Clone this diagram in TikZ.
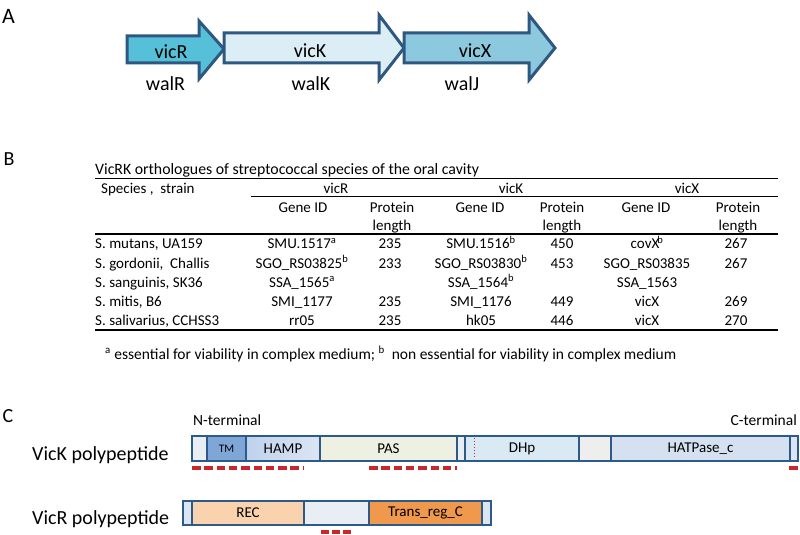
\documentclass[tikz,border=0pt]{standalone}
\usepackage{fontspec}
\setmainfont{Carlito}
\definecolor{arrowline}{HTML}{2E5880}
\definecolor{fR}{HTML}{55C0D8}
\definecolor{fK}{HTML}{DCEEF5}
\definecolor{fX}{HTML}{8CC8DE}
\definecolor{barline}{HTML}{2E5A8A}
\definecolor{redd}{HTML}{C8282C}
\definecolor{cWhite}{HTML}{E8EEF4}
\definecolor{cTM}{HTML}{7EA7D8}
\definecolor{cHAMPa}{HTML}{BFD2EC}
\definecolor{cHAMPb}{HTML}{DCE5F2}
\definecolor{cPAS}{HTML}{EEF0E2}
\definecolor{cDHp}{HTML}{D9EAF4}
\definecolor{cBlank}{HTML}{EEEEEE}
\definecolor{cHAT}{HTML}{D5E1F0}
\definecolor{cEnd}{HTML}{DCE6F2}
\definecolor{cREC}{HTML}{FAD2AE}
\definecolor{cTrans}{HTML}{F0984C}
\begin{document}
\begin{tikzpicture}[x=1pt,y=-1pt,
  panel/.style={font=\fontsize{20}{24}\selectfont, anchor=base, inner sep=0},
  glab/.style={font=\fontsize{20}{24}\selectfont, anchor=base, inner sep=0},
  cell/.style={font=\fontsize{15}{18}\selectfont, anchor=base, inner sep=0},
  cellL/.style={cell, anchor=base west},
  gene/.style={draw=arrowline, line width=3pt, line join=miter},
  seg/.style={draw=barline, line width=2.5pt},
  segtext/.style={font=\fontsize{15}{18}\selectfont, inner sep=0},
  poly/.style={font=\fontsize{20}{24}\selectfont, anchor=base west, inner sep=0},
  reddash/.style={draw=redd, line width=3.5pt, dash pattern=on 8.5pt off 3.8pt},
  rule/.style={line width=1.3pt},
]
\useasboundingbox (0,0) rectangle (800,535);

% ---------- A ----------
\node[panel, font=\fontsize{22}{26}\selectfont] (labA) at (8.5,24) {A};
\draw[gene, fill=fR] (127,36) -- (199,36) -- (199,21) -- (224,49) -- (199,79) -- (199,63) -- (127,63) -- cycle;
\draw[gene, fill=fK] (224,33) -- (379,33) -- (379,15) -- (404,48) -- (379,80) -- (379,63) -- (224,63) -- cycle;
\draw[gene, fill=fX] (404,33) -- (529,33) -- (529,15) -- (555,48) -- (529,80) -- (529,63) -- (404,63) -- cycle;
\node[glab] (vicR) at (171,59) {vicR};
\node[glab] (vicK) at (310,57) {vicK};
\node[glab] (vicX) at (475,57) {vicX};
\node[glab] (walR) at (165.5,90) {walR};
\node[glab] (walK) at (311,90) {walK};
\node[glab] (walJ) at (462,90) {walJ};

% ---------- B ----------
\node[panel] (labB) at (9,165) {B};
\node[cellL, font=\fontsize{15.8}{19}\selectfont] (title) at (95,174) {\underline{VicRK orthologues of streptococcal species of the oral cavity}};
\coordinate (r1a) at (95,178.5);  \coordinate (r1b) at (778,178.5);
\coordinate (r2a) at (251,196);   \coordinate (r2b) at (778,196);
\coordinate (r3a) at (95,234);    \coordinate (r3b) at (778,234);
\coordinate (r4a) at (95,330);    \coordinate (r4b) at (778,330);
\draw[rule] (r1a) -- (r1b);
\draw[line width=1pt] (r2a) -- (r2b);
\draw[rule] (r3a) -- (r3b);
\draw[rule] (r4a) -- (r4b);

\node[cellL] (hsp) at (101,193) {Species ,\ \ strain};
\node[cell] (hR) at (336,193) {vicR};
\node[cell] (hK) at (511,193) {vicK};
\node[cell] (hX) at (687,193) {vicX};
\node[cell] (hRg) at (303,212) {Gene ID};
\node[cell] (hRp) at (392,212) {Protein};
\node[cell] (hRl) at (392,230) {length};
\node[cell] (hKg) at (480,212) {Gene ID};
\node[cell] (hKp) at (562,212) {Protein};
\node[cell] (hKl) at (562,230) {length};
\node[cell] (hXg) at (646,212) {Gene ID};
\node[cell] (hXp) at (738,212) {Protein};
\node[cell] (hXl) at (738,230) {length};

% rows
\node[cellL] (s1) at (95,248.5) {S. mutans, UA159};
\node[cellL] (s2) at (95,268) {S. gordonii,\ \ Challis};
\node[cellL] (s3) at (95,287) {S. sanguinis, SK36};
\node[cellL] (s4) at (95,306) {S. mitis, B6};
\node[cellL] (s5) at (95,325) {S. salivarius, CCHSS3};

\node[cell] (g11) at (302,248.5) {SMU.1517\textsuperscript{a}};
\node[cell] (g21) at (302,268) {SGO\_RS03825\textsuperscript{b}};
\node[cell] (g31) at (302,287) {SSA\_1565\textsuperscript{a}};
\node[cell] (g41) at (302,306) {SMI\_1177};
\node[cell] (g51) at (302,325) {rr05};
\node[cell] (p11) at (390,248.5) {235};
\node[cell] (p21) at (390,268) {233};
\node[cell] (p41) at (390,306) {235};
\node[cell] (p51) at (390,325) {235};

\node[cell] (g12) at (481,248.5) {SMU.1516\textsuperscript{b}};
\node[cell] (g22) at (481,268) {SGO\_RS03830\textsuperscript{b}};
\node[cell] (g32) at (481,287) {SSA\_1564\textsuperscript{b}};
\node[cell] (g42) at (481,306) {SMI\_1176};
\node[cell] (g52) at (481,325) {hk05};
\node[cell] (p12) at (562,248.5) {450};
\node[cell] (p22) at (562,268) {453};
\node[cell] (p42) at (562,306) {449};
\node[cell] (p52) at (562,325) {446};

\node[cell] (g13) at (647,248.5) {covX\kern-2pt\textsuperscript{b}};
\node[cell] (g23) at (647,268) {SGO\_RS03835};
\node[cell] (g33) at (647,287) {SSA\_1563};
\node[cell] (g43) at (647,306) {vicX};
\node[cell] (g53) at (647,325) {vicX};
\node[cell] (p13) at (736,248.5) {267};
\node[cell] (p23) at (736,268) {267};
\node[cell] (p43) at (736,306) {269};
\node[cell] (p53) at (736,325) {270};

\node[font=\fontsize{15.5}{18}\selectfont, anchor=base west, inner sep=0] (foot) at (105,359)
  {\textsuperscript{a} essential for viability in complex medium;\ \textsuperscript{b}\ \ non essential for viability in complex medium};

% ---------- C ----------
\node[panel] (labC) at (8,422) {C};
\node[cell, anchor=base west, font=\fontsize{15.5}{18}\selectfont] (nterm) at (193,425) {N-terminal};
\node[cell, anchor=base east, font=\fontsize{15.5}{18}\selectfont] (cterm) at (797,425) {C-terminal};
\node[poly] (vickp) at (32,460) {VicK polypeptide};
\node[poly] (vicrp) at (32,524) {VicR polypeptide};

% VicK bar segments
\def\kt{436}\def\kb{461}
\draw[seg, fill=cWhite] (192,\kt) rectangle (207,\kb);
\draw[seg, fill=cTM] (207,\kt) rectangle (246,\kb);
\draw[seg, left color=cHAMPa, right color=cHAMPb] (246,\kt) rectangle (320,\kb);
\draw[seg, fill=cPAS] (320,\kt) rectangle (457,\kb);
\draw[seg, fill=cWhite] (457,\kt) rectangle (465,\kb);
\draw[seg, fill=cDHp] (465,\kt) rectangle (579,\kb);
\draw[seg, fill=cBlank] (579,\kt) rectangle (611,\kb);
\draw[seg, fill=cHAT] (611,\kt) rectangle (790,\kb);
\draw[seg, fill=cEnd] (790,\kt) rectangle (798,\kb);
\coordinate (dpa) at (474,438); \coordinate (dpb) at (474,459);
\draw[redd, line width=1pt, dotted] (dpa) -- (dpb);
\node[segtext, font=\fontsize{11.5}{13}\selectfont] (tm) at (226.5,449) {TM};
\node[segtext] (hamp) at (283,448.5) {HAMP};
\node[segtext] (pas) at (388.5,448.5) {PAS};
\node[segtext] (dhp) at (522,448.5) {DHp};
\node[segtext] (hat) at (700.5,448.5) {HATPase\_c};

% VicR bar segments
\def\rt{501}\def\rb{525}
\draw[seg, fill=cEnd] (183,\rt) rectangle (192,\rb);
\draw[seg, fill=cREC] (192,\rt) rectangle (304,\rb);
\draw[seg, fill=cWhite] (304,\rt) rectangle (369,\rb);
\draw[seg, fill=cTrans] (369,\rt) rectangle (482,\rb);
\draw[seg, fill=cEnd] (482,\rt) rectangle (491,\rb);
\node[segtext] (rec) at (248,513) {REC};
\node[segtext] (trans) at (425.5,513) {Trans\_reg\_C};

% red dashes
\coordinate (d1a) at (192,468); \coordinate (d1b) at (304,468);
\coordinate (d2a) at (369,468); \coordinate (d2b) at (457,468);
\coordinate (d3a) at (789,468); \coordinate (d3b) at (798,468);
\coordinate (d4a) at (321,532); \coordinate (d4b) at (353,532);
\draw[reddash] (d1a) -- (d1b);
\draw[reddash] (d2a) -- (d2b);
\draw[reddash] (d3a) -- (d3b);
\draw[reddash, dash pattern=on 8pt off 3pt] (d4a) -- (d4b);
\end{tikzpicture}
\end{document}
